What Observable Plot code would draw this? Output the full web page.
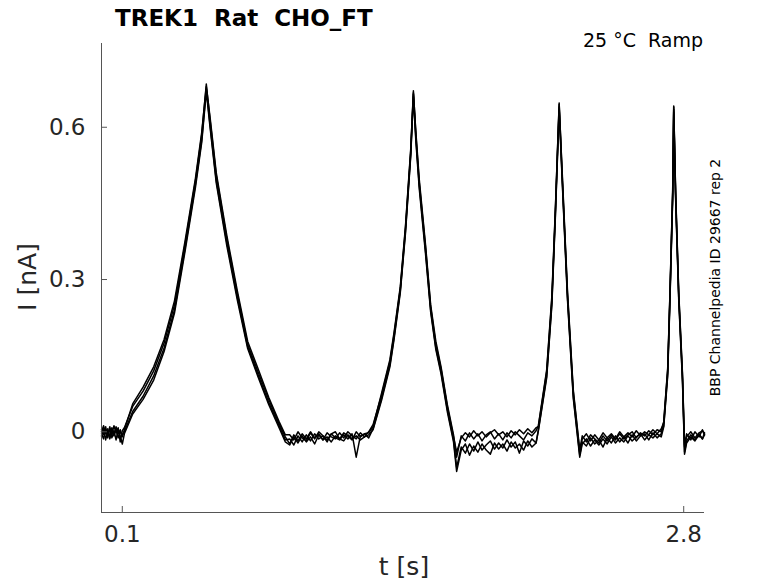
<!DOCTYPE html>
<html>
<head>
<meta charset="utf-8">
<script src="https://cdn.jsdelivr.net/npm/d3@7"></script>
<script src="https://cdn.jsdelivr.net/npm/@observablehq/plot@0.6"></script>
<style>
  html, body { margin: 0; padding: 0; background: #fff; }
  #chart { position: relative; width: 778px; height: 583px; }
  svg text { white-space: pre; }
</style>
</head>
<body>
<div id="chart"></div>
<script>
// ---- data ----
const titleText = "TREK1  Rat  CHO_FT";
const conditionText = "25 °C  Ramp";
const sourceText = "BBP Channelpedia ID 29667 rep 2";
const xLabel = "t [s]";
const yLabel = "I [nA]";
const xTicks = [0.1, 2.8];
const yTicks = [0, 0.3, 0.6];
const xDomain = [0, 2.9];
const yDomain = [-0.159, 0.765];

// time points (s)
const T = [
  0,0.01,0.02,0.03,0.04,0.05,0.06,0.07,0.08,0.09,0.1,
  0.11,0.15,0.2,0.251,0.301,0.351,0.402,0.452,0.482,0.504,
  0.522,0.552,0.603,0.653,0.703,0.753,0.804,0.854,0.884,
  0.905,0.925,0.945,0.965,0.985,1.005,1.025,1.045,1.065,1.085,1.105,1.125,1.145,1.165,1.185,1.205,1.225,1.245,1.265,1.285,
  1.306,1.347,1.387,1.407,1.437,1.462,1.487,1.5,
  1.512,1.528,1.558,1.583,1.608,1.633,1.663,1.693,1.708,
  1.73,1.75,1.77,1.79,1.81,1.83,1.85,1.87,1.89,1.91,1.93,1.95,1.97,1.99,2.01,2.03,2.05,2.07,2.09,
  2.101,2.141,2.166,2.183,2.201,
  2.216,2.241,2.269,2.3,
  2.312,2.332,2.352,2.372,2.392,2.412,2.432,2.452,2.472,2.492,2.512,2.532,2.552,2.572,2.592,2.612,2.632,2.652,2.672,2.692,
  2.704,2.723,2.734,2.747,2.752,
  2.761,2.776,2.794,2.804,
  2.814,2.834,2.854,2.874,2.89,2.9
];

// current of each sweep (nA)
const sweep1 = [
  0.004,-0.006,0.01,-0.012,0.006,-0.004,0.012,-0.002,0.008,-0.02,0.002,
  0.008,0.05,0.08,0.12,0.175,0.25,0.37,0.495,0.585,0.685,
  0.615,0.505,0.38,0.272,0.172,0.118,0.064,0.016,-0.01,
  -0.024,-0.006,-0.018,-0.004,-0.014,0.0,-0.012,-0.004,-0.016,-0.002,-0.01,-0.014,-0.002,-0.012,0.0,-0.008,-0.014,-0.002,-0.01,0.0,
  0.014,0.072,0.138,0.192,0.282,0.402,0.552,0.672,
  0.585,0.492,0.365,0.246,0.172,0.124,0.05,-0.01,-0.04,
  -0.012,-0.002,-0.01,0.002,-0.008,0.0,-0.01,-0.002,0.004,-0.006,0.0,-0.01,0.002,-0.006,0.004,-0.004,0.006,-0.002,0.008,
  0.01,0.118,0.262,0.438,0.648,
  0.502,0.272,0.078,-0.04,
  -0.014,-0.004,-0.018,-0.006,-0.016,-0.002,-0.012,-0.004,-0.014,0.0,-0.01,-0.002,-0.01,0.002,-0.008,0.0,-0.006,0.004,-0.004,0.006,
  0.018,0.122,0.272,0.472,0.642,
  0.472,0.272,0.112,-0.03,
  -0.01,0.0,-0.012,-0.002,0.002,-0.006
];
const sweep2 = [
  -0.008,0.006,-0.016,0.002,-0.01,0.008,-0.004,0.004,-0.012,0.0,-0.006,
  0.0,0.04,0.07,0.11,0.165,0.24,0.362,0.488,0.575,0.675,
  0.605,0.495,0.372,0.266,0.168,0.112,0.058,0.012,-0.016,
  -0.014,-0.026,-0.008,-0.02,-0.006,-0.018,-0.004,-0.014,-0.008,-0.02,-0.004,-0.012,-0.016,-0.006,-0.014,-0.004,-0.05,-0.008,-0.004,-0.012,
  0.006,0.066,0.132,0.186,0.278,0.396,0.546,0.665,
  0.578,0.486,0.358,0.24,0.166,0.118,0.044,-0.016,-0.07,
  -0.03,-0.042,-0.024,-0.038,-0.02,-0.036,-0.026,-0.018,-0.034,-0.022,-0.032,-0.016,-0.03,-0.02,-0.042,-0.018,-0.028,-0.014,-0.022,
  0.004,0.11,0.255,0.43,0.64,
  0.495,0.265,0.07,-0.046,
  -0.02,-0.028,-0.012,-0.024,-0.016,-0.03,-0.012,-0.022,-0.008,-0.02,-0.01,-0.022,-0.006,-0.018,-0.008,-0.004,-0.016,-0.002,-0.012,-0.004,
  0.012,0.115,0.265,0.465,0.635,
  0.465,0.265,0.104,-0.04,
  -0.018,-0.006,-0.016,-0.004,-0.014,-0.002
];
const sweep3 = [
  0.0,0.012,-0.004,0.006,-0.014,0.002,-0.008,0.01,-0.004,0.004,-0.01,
  0.004,0.055,0.088,0.128,0.182,0.258,0.376,0.5,0.59,0.68,
  0.62,0.51,0.386,0.278,0.178,0.124,0.068,0.02,-0.006,
  -0.006,-0.016,0.0,-0.012,-0.018,-0.002,-0.014,0.0,-0.008,-0.016,-0.004,0.0,-0.014,-0.002,-0.008,-0.016,0.0,-0.01,-0.004,-0.002,
  0.01,0.076,0.142,0.196,0.286,0.406,0.556,0.668,
  0.59,0.498,0.37,0.25,0.178,0.128,0.054,-0.006,-0.05,
  -0.008,-0.018,-0.002,-0.014,-0.004,-0.018,-0.006,0.0,-0.014,-0.004,-0.016,-0.002,-0.012,0.0,-0.008,-0.016,-0.002,-0.008,0.002,
  0.012,0.122,0.268,0.442,0.645,
  0.508,0.278,0.082,-0.036,
  -0.008,-0.02,-0.006,-0.014,-0.022,-0.008,-0.018,-0.006,-0.016,-0.004,-0.014,-0.006,0.0,-0.012,-0.002,-0.008,0.002,-0.006,0.004,0.0,
  0.02,0.125,0.275,0.475,0.64,
  0.476,0.276,0.116,-0.026,
  -0.004,-0.016,0.0,-0.01,0.004,-0.004
];
const sweep4 = [
  -0.004,-0.014,0.004,-0.008,0.01,-0.012,0.002,-0.016,0.004,-0.008,-0.024,
  -0.004,0.035,0.064,0.102,0.158,0.234,0.356,0.482,0.57,0.67,
  0.6,0.49,0.366,0.26,0.164,0.108,0.054,0.008,-0.02,
  -0.026,-0.01,-0.022,-0.008,-0.02,-0.01,-0.024,-0.006,-0.016,-0.01,-0.02,-0.008,-0.014,-0.018,-0.006,-0.014,-0.008,-0.016,-0.01,-0.006,
  0.004,0.062,0.128,0.182,0.274,0.392,0.542,0.66,
  0.572,0.48,0.352,0.236,0.162,0.114,0.04,-0.02,-0.078,
  -0.036,-0.024,-0.046,-0.028,-0.04,-0.024,-0.036,-0.044,-0.022,-0.034,-0.024,-0.038,-0.02,-0.032,-0.024,-0.036,-0.018,-0.03,-0.022,
  0.002,0.106,0.25,0.425,0.635,
  0.49,0.26,0.066,-0.05,
  -0.024,-0.014,-0.028,-0.016,-0.026,-0.014,-0.024,-0.01,-0.022,-0.012,-0.02,-0.008,-0.018,-0.01,-0.004,-0.016,-0.006,-0.012,-0.004,-0.01,
  0.01,0.11,0.26,0.46,0.63,
  0.46,0.26,0.1,-0.044,
  -0.022,-0.01,-0.018,-0.006,-0.014,-0.006
];
const sweeps = [sweep1, sweep2, sweep3, sweep4];

// ---- build table ----
const rows = [];
sweeps.forEach((s, k) => {
  if (s.length !== T.length) console.error("length mismatch sweep", k + 1, s.length, T.length);
  for (let i = 0; i < Math.min(s.length, T.length); i++) rows.push({t: T[i], I: s[i], sweep: k + 1});
});

const W = 778, H = 583;
const mTop = 43, mRight = 74, mBottom = 71, mLeft = 101;
const innerW = W - mLeft - mRight, innerH = H - mTop - mBottom;
const axisColor = "#555";
const textColor = "#262626";
const fmt = d => d === 0 ? "0" : String(d);

const plot = Plot.plot({
  width: W,
  height: H,
  marginTop: mTop,
  marginRight: mRight,
  marginBottom: mBottom,
  marginLeft: mLeft,
  style: {fontFamily: "DejaVu Sans", background: "white", overflow: "visible"},
  x: {domain: xDomain, axis: null},
  y: {domain: yDomain, axis: null},
  marks: [
    Plot.line(rows, {x: "t", y: "I", z: "sweep", stroke: "black", strokeWidth: 1.5, strokeLinejoin: "round"}),
    Plot.ruleX([xDomain[0]], {stroke: axisColor, strokeWidth: 1}),
    Plot.ruleY([yDomain[0]], {stroke: axisColor, strokeWidth: 1}),
    Plot.tickX(xTicks, {x: d => d, insetTop: innerH - 6, stroke: axisColor, strokeWidth: 1}),
    Plot.tickY(yTicks, {y: d => d, insetRight: innerW - 6, stroke: axisColor, strokeWidth: 1}),
    Plot.text(xTicks, {x: d => d, frameAnchor: "bottom", dy: 22, text: fmt, fontSize: 23, fill: textColor, lineAnchor: "middle"}),
    Plot.text(yTicks, {y: d => d, frameAnchor: "left", dx: -16, text: fmt, fontSize: 23, fill: textColor, textAnchor: "end", lineAnchor: "middle"})
  ]
});

document.getElementById("chart").appendChild(plot);

const svg = d3.select(plot);
svg.append("text")
  .attr("x", 115).attr("y", 26).attr("text-anchor", "start")
  .attr("font-family", "DejaVu Sans").attr("font-weight", "bold").attr("font-size", 23)
  .attr("fill", "black").text(titleText);
svg.append("text")
  .attr("x", 703).attr("y", 47).attr("text-anchor", "end")
  .attr("font-family", "DejaVu Sans").attr("font-size", 19)
  .attr("fill", "black").text(conditionText);
svg.append("text")
  .attr("transform", "translate(720,277.5) rotate(-90)").attr("text-anchor", "middle")
  .attr("font-family", "DejaVu Sans").attr("font-size", 14)
  .attr("fill", "black").text(sourceText);
svg.append("text")
  .attr("transform", "translate(36,277) rotate(-90)").attr("text-anchor", "middle")
  .attr("font-family", "DejaVu Sans").attr("font-size", 25)
  .attr("fill", textColor).text(yLabel);
svg.append("text")
  .attr("x", 404).attr("y", 575).attr("text-anchor", "middle")
  .attr("font-family", "DejaVu Sans").attr("font-size", 25)
  .attr("fill", textColor).text(xLabel);
</script>
</body>
</html>
